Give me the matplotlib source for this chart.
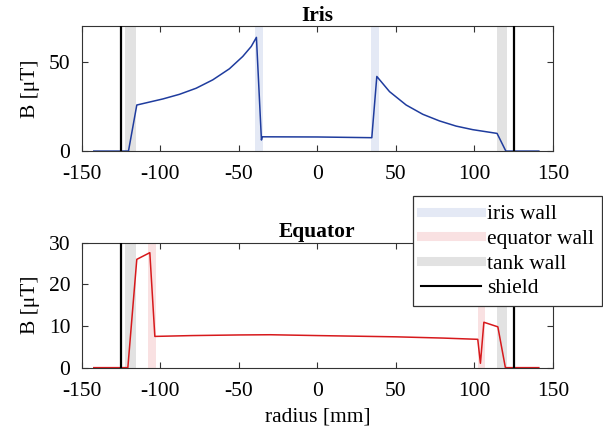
import matplotlib
matplotlib.use("Agg")
import matplotlib.pyplot as plt
from matplotlib.lines import Line2D

plt.rcParams["font.family"] = ["Liberation Serif", "DejaVu Serif"]
plt.rcParams["font.size"] = 15.5
plt.rcParams["axes.linewidth"] = 0.8
plt.rcParams["axes.unicode_minus"] = False

# field profile across the iris plane
iris_r = [-142.5, -120.4, -115.1, -98.5, -87.9, -77.3, -66.7, -56.1, -47.6,
          -42.2, -38.9, -35.7, -35.2, 0.0, 34.6, 37.8, 45.9, 56.5, 67.1,
          77.7, 88.3, 98.9, 114.4, 120.0, 141.0]
iris_b = [0.0, 0.0, 25.8, 29.2, 31.8, 35.2, 39.9, 46.1, 53.0,
          58.6, 63.7, 6.2, 8.0, 7.9, 7.5, 41.8, 33.3, 25.8, 20.6,
          16.9, 14.0, 12.0, 9.9, 0.0, 0.0]

# field profile across the equator plane
eq_r = [-142.5, -120.8, -115.1, -106.8, -103.6, -80.0, -50.0, -30.0, 0.0,
        50.0, 80.0, 102.1, 103.8, 106.0, 114.9, 119.7, 141.0]
eq_b = [0.0, 0.0, 26.0, 27.6, 7.5, 7.7, 7.85, 7.9, 7.7,
        7.4, 7.1, 6.8, 1.05, 10.9, 9.8, 0.0, 0.0]

iris_wall = [(-39.5, -34.4), (33.8, 38.9)]
equator_wall = [(-108.0, -102.6), (102.1, 107.0)]
tank_wall = [(-122.4, -115.4), (114.2, 121.0)]
shield = [-125.0, 125.0]

C_IRIS_WALL = "#e4e9f5"
C_EQ_WALL = "#f9e1e2"
C_TANK_WALL = "#e2e2e2"
C_IRIS = "#1f3c9e"
C_EQ = "#d7191c"

fig = plt.figure(figsize=(6.03, 4.28), dpi=100)
ax1 = fig.add_axes([0.136, 0.647, 0.781, 0.292])
ax2 = fig.add_axes([0.136, 0.141, 0.781, 0.292])


def decorate(ax, ymax, yticks, walls):
    for lo, hi in tank_wall:
        ax.axvspan(lo, hi, color=C_TANK_WALL, lw=0, zorder=0)
    for lo, hi in walls[0]:
        ax.axvspan(lo, hi, color=walls[1], lw=0, zorder=0)
    for x in shield:
        ax.axvline(x, color="black", lw=1.6, zorder=3)
    ax.set_xlim(-150, 150)
    ax.set_ylim(0, ymax)
    ax.set_xticks([-150, -100, -50, 0, 50, 100, 150])
    ax.set_yticks(yticks)
    ax.tick_params(direction="in", top=True, right=True, length=4,
                   width=0.8, color="#333333")
    ax.tick_params(axis="x", pad=10)
    ax.tick_params(axis="y", pad=8.5)
    for s in ax.spines.values():
        s.set_color("#333333")
    ax.set_ylabel("B [μT]", labelpad=6)


decorate(ax1, 70, [0, 50], (iris_wall, C_IRIS_WALL))
ax1.plot(iris_r, iris_b, color=C_IRIS, lw=1.1, zorder=2)
ax1.set_title("Iris", fontweight="bold", fontsize=15.5, pad=4)

decorate(ax2, 30, [0, 10, 20, 30], (equator_wall, C_EQ_WALL))
ax2.plot(eq_r, eq_b, color=C_EQ, lw=1.1, zorder=2)
ax2.set_title("Equator", fontweight="bold", fontsize=15.5, pad=4)
ax2.set_xlabel("radius [mm]", labelpad=5)

handles = [
    Line2D([], [], color=C_IRIS_WALL, lw=6.5),
    Line2D([], [], color=C_EQ_WALL, lw=6.5),
    Line2D([], [], color=C_TANK_WALL, lw=6.5),
    Line2D([], [], color="black", lw=1.5),
]
labels = ["iris wall", "equator wall", "tank wall", "shield"]
leg = fig.legend(handles, labels, loc="upper left",
                 bbox_to_anchor=(0.685, 0.541), fancybox=False,
                 framealpha=1, edgecolor="#333333", handlelength=2.8,
                 handletextpad=0.3, labelspacing=0.22, borderpad=0.35,
                 borderaxespad=0)
leg.get_frame().set_linewidth(0.9)

fig.savefig("out.png", dpi=100)
